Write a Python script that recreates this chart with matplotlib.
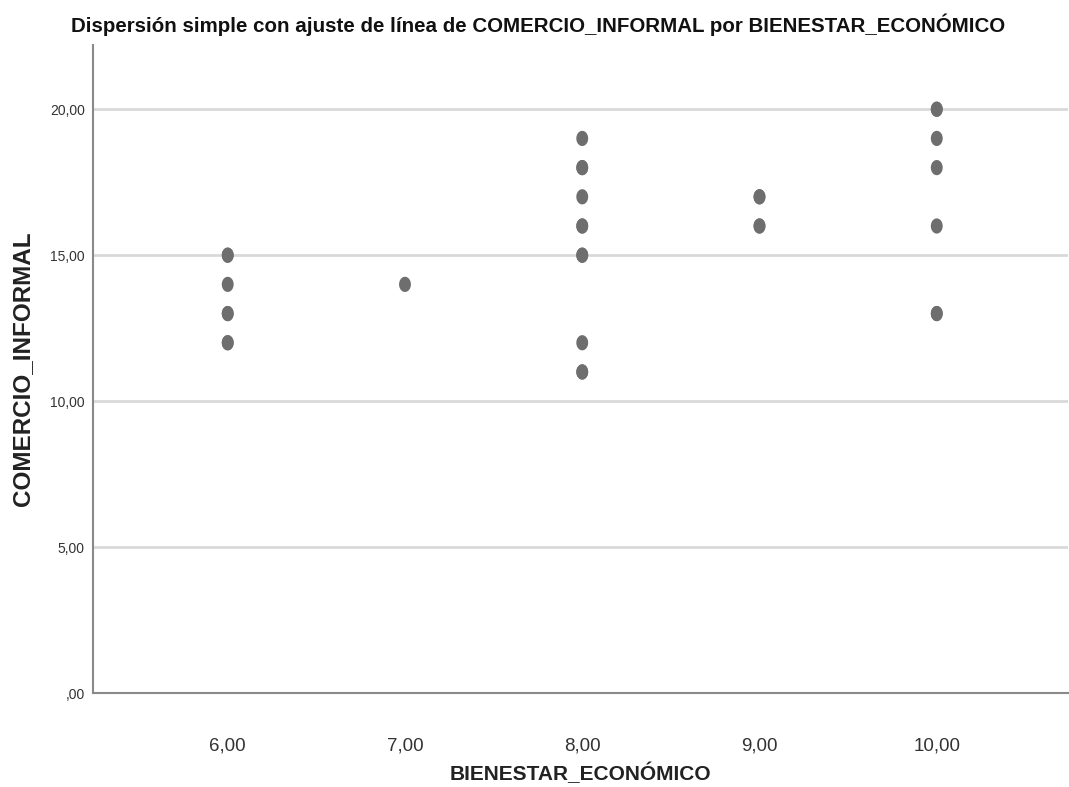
import matplotlib.pyplot as plt
from matplotlib.path import Path
import numpy as np

# data (duplicates kept where points look heavier)
bienestar = [6, 6, 6, 6, 6, 6, 6,
             7,
             8, 8, 8, 8, 8, 8, 8, 8, 8, 8, 8,
             9, 9, 9, 9,
             10, 10, 10, 10, 10, 10, 10]
comercio = [15, 15, 14, 13, 13, 12, 12,
            14,
            19, 18, 18, 17, 16, 16, 15, 15, 12, 11, 11,
            17, 17, 16, 16,
            20, 20, 19, 18, 16, 13, 13]

y_ticks = [0, 5, 10, 15, 20]
y_labels = [',00', '5,00', '10,00', '15,00', '20,00']
x_ticks = [6, 7, 8, 9, 10]
x_labels = ['6,00', '7,00', '8,00', '9,00', '10,00']

plt.rcParams['font.family'] = ['Liberation Sans', 'DejaVu Sans']

# slightly tall ellipse marker, like the reference
t = np.linspace(0, 2 * np.pi, 40)
ellipse = Path(np.column_stack([0.78 * np.cos(t), np.sin(t)]), closed=True)

fig = plt.figure(figsize=(10.69, 7.87), dpi=100)
ax = fig.add_axes([0.087, 0.1194, 0.912, 0.8234])

ax.scatter(bienestar, comercio, marker=ellipse, s=120, color='#6e6e6e',
           edgecolors='none', zorder=3)

ax.set_xlim(5.24, 10.74)
ax.set_ylim(0, 22.2)
ax.set_yticks(y_ticks)
ax.set_yticklabels(y_labels, fontsize=10, color='#333333')
ax.set_xticks(x_ticks)
ax.set_xticklabels(x_labels, fontsize=13.5, color='#333333')
ax.tick_params(axis='both', length=0)
ax.tick_params(axis='x', pad=32)
ax.tick_params(axis='y', pad=6)

for yv in y_ticks[1:]:
    ax.axhline(yv, color='#d9d9d9', linewidth=2, zorder=1)

for s in ['top', 'right']:
    ax.spines[s].set_visible(False)
for s in ['left', 'bottom']:
    ax.spines[s].set_color('#8a8a8a')
    ax.spines[s].set_linewidth(1.5)

ax.set_xlabel('BIENESTAR_ECONÓMICO', fontsize=15, fontweight='bold',
              color='#222222', labelpad=6)
ax.set_ylabel('COMERCIO_INFORMAL', fontsize=17.5, fontweight='bold',
              color='#222222', labelpad=11)
fig.text(0.503, 0.968, 'Dispersión simple con ajuste de línea de COMERCIO_INFORMAL por BIENESTAR_ECONÓMICO',
         ha='center', va='center', fontsize=14.8, fontweight='bold', color='#111111')

fig.savefig('out.png', dpi=100)
